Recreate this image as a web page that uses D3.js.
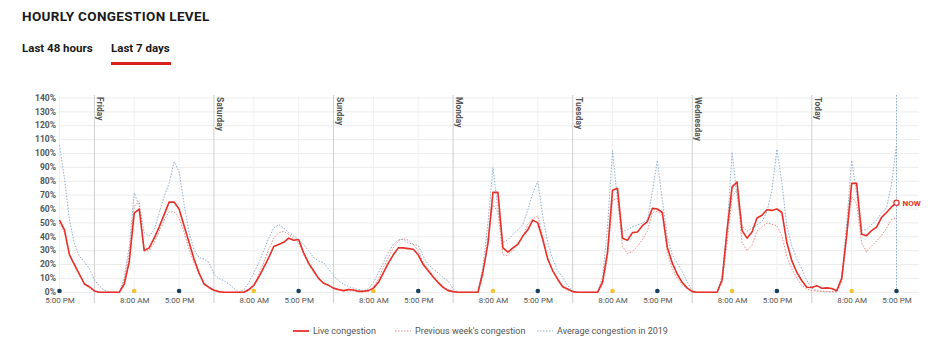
<!DOCTYPE html>
<html><head><meta charset="utf-8">
<script src="https://cdn.jsdelivr.net/npm/d3@7"></script>
<style>
body{margin:0;background:#fff;}
svg{display:block;font-family:Roboto,"Open Sans",sans-serif;}
</style></head>
<body><svg id="c" width="937" height="348"></svg>
<script>
// ---- data (hourly, starting Thursday 5:00 PM, ending Today 5:00 PM) ----
const dayNames = ["Friday","Saturday","Sunday","Monday","Tuesday","Wednesday","Today"];
const startLabel = "5:00 PM";
const tickHours = [8, 17];
const tickNames = ["8:00 AM", "5:00 PM"];
const yTicks = [0,10,20,30,40,50,60,70,80,90,100,110,120,130,140];
const firstHour = 17; // series starts at 5 PM

const live = [
  52,45,27,20,13,6,4,
  1,0,0,0,0,0,6,22,57,60,30,32,39,47,56,65,65,60,48,36,24,14,6,3.5,
  1.5,0.5,0,0,0,0,0,2,5,11,18,25,33,34.5,36,39,37.5,38,28.5,21,15.5,10,6.5,5,
  3,2,1.2,2,1.7,0.7,0.7,1.2,3,7,14,21,27,32,32,31.5,31,27,20,15.5,11,7,3.5,1.2,
  0.5,0,0,0,0,0,15,35,72,72,32,29,32,34.5,40.5,45,52,50,38,24,15.5,9.5,4,2.4,
  0.5,0,0,0,0,0,7.5,29,73.5,75,39,37.5,43,43.5,48,51,60.5,60,57.5,32.5,21,13,7,3,
  0.5,0,0,0,0,0,9,45,76,79.5,44.5,39,43.5,53.5,55.5,59.5,59,60,57.5,35.7,22.6,14.3,8.3,3.6,
  3.5,4.8,2.9,3.2,2.7,1.1,10,41,78.5,78.5,41.8,40.8,44.5,47,54,57.5,61.5,64.5
];
const prevWeek = [
  50,43,27,19,12,6,3,
  1,0,0,0,0,0,8,28,62,66,30,30,35.7,44,52,58,58,53.6,43,31,21.4,13,7,3.6,
  1.7,0.5,0,0,0,0,0,1,5,13,21.4,31,39,43,44,41.7,39,35.7,27.4,20,14.3,10,7,5,
  3,1.5,1,1,1,0.5,0.5,1,3.6,9.5,18,25,32,37,38.6,37.6,34.5,30,21.4,16.7,12,7.6,4.3,2,
  0.5,0,0,0,0,0,12,40,63,58,27,26.5,30,35.7,40.5,48.8,53,55,40,24,15.5,8.3,3.6,1.2,
  0.5,0,0,0,0,0,5,24.5,66.5,67.5,33,28,29.5,33,38,44,57.5,58.5,55.7,28,17.3,10,5.3,3,
  1.2,0,0,0,0,0,7,35.7,69,73.8,35.7,30,34,44,47,50,49,48,40.5,26,16.7,10,4.8,2.4,
  1.2,1,0.8,0.5,0.5,0.5,7,40.5,69,64,35.7,29,33.3,37,41,46.4,52.4,54
];
const avg2019 = [
  106,82,52,35,26,22,17,
  9,4.5,1.5,0.3,0,0,10.7,33,71.4,62,43,40.5,45,57,69,78.6,94,87,64,43,31,25,24,21.4,
  13,10,8.3,6,3,0,1.7,7,14,21.4,30,39,46.4,48.8,46.4,43,40.5,38,34.5,30,25,22.6,21.4,16.7,
  12,8.3,6,4,3,2,1.2,2.4,7,14,21.4,28.6,34.5,38,38,35.7,34.5,33.8,26,20,16.7,14,10.7,8.3,
  2.4,0,0,0,0,0,19,50,90,59.5,35.7,38,41.7,45,48.8,59.5,71.4,80,54.8,35.7,24,15.5,10.7,4.8,
  1.2,0,0,0,0,0,11,47,102,66.5,43.7,45,47,48.5,50,52,72.5,95,66,40,27,21,15,7.5,
  1.2,0,0,0,0,0,12,45,101,69,47.6,44,46.4,48.8,51,58,73.8,103,78.6,47.6,33.3,24,16.7,8.3,
  3,1.2,0.5,0.3,0.2,0.2,10.7,50,95,71,45,45,48.8,52,57,61,78,106
];

// ---- chart ----
const svg = d3.select("#c");
const nH = live.length - 1;
const x = d3.scaleLinear().domain([0, nH]).range([59.5, 896.5]);
const y = d3.scaleLinear().domain([0, 140]).range([292.3, 98]);
const gridRight = 919;

// title & tabs
svg.append("text").attr("x", 22).attr("y", 21).text("HOURLY CONGESTION LEVEL")
  .attr("font-size", 13.5).attr("letter-spacing", 0.35).attr("font-weight", 700).attr("fill", "#1a1a1a");
svg.append("text").attr("x", 22).attr("y", 52).text("Last 48 hours")
  .attr("font-size", 11.5).attr("font-weight", 700).attr("fill", "#1a1a1a");
svg.append("text").attr("x", 111).attr("y", 52).text("Last 7 days")
  .attr("font-size", 11.5).attr("font-weight", 700).attr("fill", "#1a1a1a");
svg.append("rect").attr("x", 111).attr("y", 62).attr("width", 60).attr("height", 3).attr("fill", "#d8211c");

// horizontal grid
svg.append("g").selectAll("line").data(yTicks).join("line")
  .attr("x1", 58).attr("x2", gridRight)
  .attr("y1", d => y(d)).attr("y2", d => y(d))
  .attr("stroke", "#ececec").attr("stroke-width", 1);

// y axis labels
const yAxis = svg.append("g").attr("transform", "translate(56,-0.5)")
  .call(d3.axisLeft(y).tickValues(yTicks).tickSize(0).tickPadding(0).tickFormat(d => d + "%"));
yAxis.select(".domain").remove();
yAxis.selectAll("text").attr("font-size", 8.5).attr("font-weight", 700).attr("fill", "#555")
  .attr("font-family", "Roboto, sans-serif");

// tick hours
const ticks = [{h: 0, label: startLabel}];
dayNames.forEach((name, i) => {
  const mid = (24 - firstHour) + 24 * i;
  tickHours.forEach((th, j) => {
    if (mid + th <= nH) ticks.push({h: mid + th, label: tickNames[j]});
  });
});
// light vertical gridlines at ticks
svg.append("g").selectAll("line").data(ticks).join("line")
  .attr("x1", d => x(d.h)).attr("x2", d => x(d.h))
  .attr("y1", 96).attr("y2", 292)
  .attr("stroke", "#f0f0f0").attr("stroke-width", 1);

// day separators
const days = dayNames.map((name, i) => ({name, h: (24 - firstHour) + 24 * i}));
const dg = svg.append("g");
dg.selectAll("line").data(days).join("line")
  .attr("x1", d => x(d.h)).attr("x2", d => x(d.h))
  .attr("y1", 95).attr("y2", 303)
  .attr("stroke", "#cfcfcf").attr("stroke-width", 1);
dg.selectAll("text").data(days).join("text")
  .attr("transform", d => `translate(${x(d.h) + 3},97) rotate(90)`)
  .attr("font-size", 8.5).attr("font-weight", 700).attr("fill", "#555")
  .text(d => d.name);

// now line
svg.append("line").attr("x1", x(nH)).attr("x2", x(nH)).attr("y1", 95).attr("y2", 292)
  .attr("stroke", "#8fb0cc").attr("stroke-width", 1).attr("stroke-dasharray", "1.5,1.5");

// x axis labels
const xAxis = svg.append("g").attr("transform", "translate(0,295.5)")
  .call(d3.axisBottom(x).tickValues(ticks.map(t => t.h)).tickSize(0).tickPadding(2)
    .tickFormat(h => ticks.find(t => t.h === h).label));
xAxis.select(".domain").remove();
xAxis.selectAll("text").attr("font-size", 8).attr("fill", "#555").attr("font-family", "Roboto, sans-serif");

// dots
svg.append("g").selectAll("circle").data(ticks).join("circle")
  .attr("cx", d => x(d.h)).attr("cy", 291).attr("r", 2.3)
  .attr("fill", d => d.label === "8:00 AM" ? "#f4c430" : "#17405e");

// lines
const line = d3.line().x((d, i) => x(i)).y(d => y(d));
svg.append("path").datum(avg2019).attr("d", line).attr("fill", "none")
  .attr("stroke", "#8fb0cc").attr("stroke-width", 1).attr("stroke-dasharray", "1.5,1.5");
svg.append("path").datum(prevWeek).attr("d", line).attr("fill", "none")
  .attr("stroke", "#f08a84").attr("stroke-width", 1).attr("stroke-dasharray", "1.5,1.5");
svg.append("path").datum(live).attr("d", line).attr("fill", "none")
  .attr("stroke", "#e8302a").attr("stroke-width", 1.6).attr("stroke-linejoin", "round");

// now marker
svg.append("circle").attr("cx", x(nH)).attr("cy", y(live[nH])).attr("r", 2.6)
  .attr("fill", "#fff").attr("stroke", "#e8302a").attr("stroke-width", 1.2);
svg.append("text").attr("x", x(nH) + 6).attr("y", y(live[nH]) + 3).text("NOW")
  .attr("font-size", 8).attr("font-weight", 700).attr("fill", "#e8302a");

// legend
const legend = [
  {label: "Live congestion", color: "#e8302a", dash: null, w: 1.8, x: 293},
  {label: "Previous week's congestion", color: "#f08a84", dash: "1.5,1.5", w: 1, x: 395},
  {label: "Average congestion in 2019", color: "#8fb0cc", dash: "1.5,1.5", w: 1, x: 537}
];
const lg = svg.append("g").selectAll("g").data(legend).join("g")
  .attr("transform", d => `translate(${d.x},331)`);
lg.append("line").attr("x1", 0).attr("x2", 16).attr("stroke", d => d.color)
  .attr("stroke-width", d => d.w).attr("stroke-dasharray", d => d.dash);
lg.append("text").attr("x", 20).attr("y", 3).text(d => d.label)
  .attr("font-size", 9).attr("fill", "#555");
</script></body></html>
